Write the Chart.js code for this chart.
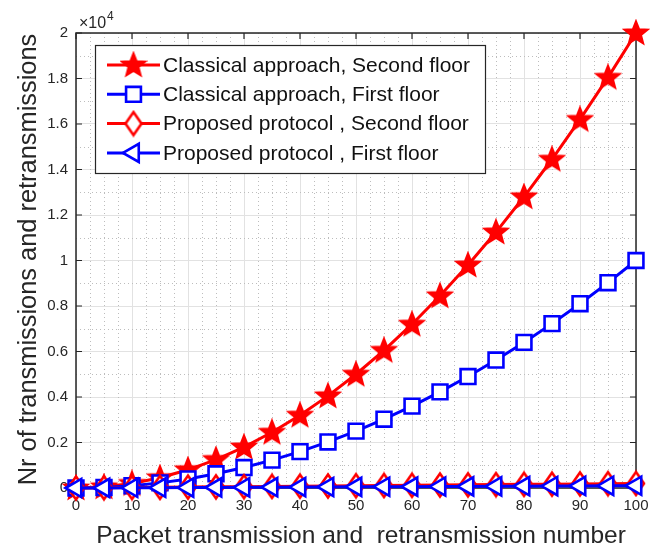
<!DOCTYPE html>
<html><head><meta charset="utf-8">
<script src="https://cdn.jsdelivr.net/npm/chart.js@4.4.0/dist/chart.umd.min.js"></script>
<style>html,body{margin:0;padding:0;background:#fff}#wrap{width:661px;height:550px}</style>
</head><body><div id="wrap"><canvas id="c" width="661" height="550"></canvas></div>
<script>
// ---- data ----
const xValues = [0,5,10,15,20,25,30,35,40,45,50,55,60,65,70,75,80,85,90,95,100];
const classicalSecond = [0,50,200,450,800,1250,1800,2450,3200,4050,5000,6050,7200,8450,9800,11250,12800,14450,16200,18050,20000];
const classicalFirst  = [0,25,100,225,400,625,900,1225,1600,2025,2500,3025,3600,4225,4900,5625,6400,7225,8100,9025,10000];
const proposedSecond  = [0,10,20,30,40,50,60,70,80,90,100,110,120,130,140,150,160,170,180,190,200];
const proposedFirst   = [0,5,10,15,20,25,30,35,40,45,50,55,60,65,70,75,80,85,90,95,100];
const seriesLabels = ['Classical approach, Second floor','Classical approach, First floor','Proposed protocol , Second floor','Proposed protocol , First floor'];
const yTickLabels = ['0','0.2','0.4','0.6','0.8','1','1.2','1.4','1.6','1.8','2'];
const xTitle = 'Packet transmission and  retransmission number';
const yTitle = 'Nr of transmissions and retransmissions';

const RED = '#ff0000', BLUE = '#0000ff', AX = '#262626';
const FONT = '"Liberation Sans", Arial, sans-serif';

function makeStar(){
  const c = document.createElement('canvas'); c.width = 28; c.height = 28;
  const g = c.getContext('2d'); const cx = 14, cy = 14.5, R = 12.5, r = 5.4;
  g.beginPath();
  for (let i = 0; i < 10; i++){
    const a = -Math.PI/2 + i*Math.PI/5; const rr = i%2 ? r : R;
    const px = cx + rr*Math.cos(a), py = cy + rr*Math.sin(a);
    i ? g.lineTo(px,py) : g.moveTo(px,py);
  }
  g.closePath(); g.fillStyle = RED; g.fill(); g.strokeStyle = RED; g.lineWidth = 1.8; g.stroke();
  return c;
}
function makeDiamond(){
  const c = document.createElement('canvas'); c.width = 22; c.height = 28;
  const g = c.getContext('2d'); const cx = 11, cy = 14, hw = 8, hh = 11.5;
  g.beginPath(); g.moveTo(cx, cy-hh); g.lineTo(cx+hw, cy); g.lineTo(cx, cy+hh); g.lineTo(cx-hw, cy); g.closePath();
  g.fillStyle = '#fff'; g.fill(); g.strokeStyle = RED; g.lineWidth = 2.6; g.stroke();
  return c;
}
const starImg = makeStar(), diamondImg = makeDiamond();

const styles = [
  {color: RED,  pointStyle: starImg, radius: 12, rotation: 0},
  {color: BLUE, pointStyle: 'rect', radius: 10.5, rotation: 0},
  {color: RED,  pointStyle: diamondImg, radius: 12, rotation: 0},
  {color: BLUE, pointStyle: 'triangle', radius: 10.5, rotation: 270}
];
const seriesData = [classicalSecond, classicalFirst, proposedSecond, proposedFirst];

const datasets = seriesData.map((vals, i) => ({
  label: seriesLabels[i],
  data: xValues.map((x, j) => ({x: x, y: vals[j]})),
  borderColor: styles[i].color,
  backgroundColor: '#ffffff',
  borderWidth: 3,
  pointStyle: styles[i].pointStyle,
  pointRadius: styles[i].radius,
  pointRotation: styles[i].rotation,
  pointBorderColor: styles[i].color,
  pointBackgroundColor: '#ffffff',
  pointBorderWidth: 2.6,
  tension: 0,
  clip: false,
  order: 4 - i
}));

const decorPlugin = {
  id: 'decor',
  beforeDatasetsDraw(chart){
    const {ctx, chartArea: a, scales: {x, y}} = chart;
    ctx.save();
    // minor grid
    ctx.strokeStyle = '#bdbdbd'; ctx.lineWidth = 1; ctx.setLineDash([1, 3]);
    for (let v = 2.5; v < 100; v += 2.5){
      if (Math.abs(v % 10) < 1e-6) continue;
      const px = Math.round(x.getPixelForValue(v)) + 0.5;
      ctx.beginPath(); ctx.moveTo(px, a.top); ctx.lineTo(px, a.bottom); ctx.stroke();
    }
    for (let v = 1000; v < 20000; v += 2000){
      const py = Math.round(y.getPixelForValue(v)) + 0.5;
      ctx.beginPath(); ctx.moveTo(a.left, py); ctx.lineTo(a.right, py); ctx.stroke();
    }
    ctx.setLineDash([]);
    // box
    ctx.strokeStyle = AX; ctx.lineWidth = 1.5;
    ctx.strokeRect(a.left, a.top, a.right - a.left, a.bottom - a.top);
    // inward ticks
    ctx.lineWidth = 1.2; const tl = 6;
    for (let v = 0; v <= 100; v += 10){
      const px = x.getPixelForValue(v);
      ctx.beginPath(); ctx.moveTo(px, a.bottom); ctx.lineTo(px, a.bottom - tl);
      ctx.moveTo(px, a.top); ctx.lineTo(px, a.top + tl); ctx.stroke();
    }
    for (let v = 0; v <= 20000; v += 2000){
      const py = y.getPixelForValue(v);
      ctx.beginPath(); ctx.moveTo(a.left, py); ctx.lineTo(a.left + tl, py);
      ctx.moveTo(a.right, py); ctx.lineTo(a.right - tl, py); ctx.stroke();
    }
    ctx.restore();
  },
  afterDatasetsDraw(chart){
    const {ctx, chartArea: a} = chart;
    ctx.save();
    // legend
    const lx = a.left + 19, ly = a.top + 12, lw = 390, lh = 128;
    ctx.fillStyle = '#fff'; ctx.fillRect(lx, ly, lw, lh);
    ctx.strokeStyle = AX; ctx.lineWidth = 1.2; ctx.strokeRect(lx + 0.5, ly + 0.5, lw, lh);
    ctx.font = '21px ' + FONT; ctx.textBaseline = 'middle'; ctx.textAlign = 'left';
    for (let i = 0; i < 4; i++){
      const cy = ly + 20 + i * 29.3;
      ctx.strokeStyle = styles[i].color; ctx.lineWidth = 3;
      ctx.beginPath(); ctx.moveTo(lx + 12, cy); ctx.lineTo(lx + 65, cy); ctx.stroke();
      ctx.fillStyle = '#fff'; ctx.strokeStyle = styles[i].color; ctx.lineWidth = 2.6;
      Chart.helpers.drawPoint(ctx, {pointStyle: styles[i].pointStyle, radius: styles[i].radius, rotation: styles[i].rotation, borderWidth: 2.6}, lx + 38.5, cy);
      ctx.fillStyle = '#111'; ctx.fillText(seriesLabels[i], lx + 68, cy + 1);
    }
    // exponent
    ctx.fillStyle = AX; ctx.textBaseline = 'alphabetic';
    ctx.font = '16px ' + FONT; ctx.fillText('\u00d710', a.left + 3, a.top - 5);
    ctx.font = '12px ' + FONT; ctx.fillText('4', a.left + 31, a.top - 13);
    // titles
    ctx.fillStyle = AX; ctx.font = '24.5px ' + FONT; ctx.textAlign = 'center'; ctx.textBaseline = 'alphabetic';
    ctx.fillText(xTitle, (a.left + a.right) / 2 + 5, 543);
    ctx.font = '25.4px ' + FONT;
    ctx.save(); ctx.translate(36, (a.top + a.bottom) / 2 - 1); ctx.rotate(-Math.PI/2);
    ctx.fillText(yTitle, 0, 0); ctx.restore();
    ctx.restore();
  }
};

new Chart(document.getElementById('c'), {
  type: 'line',
  data: {datasets},
  options: {
    responsive: false, animation: false, devicePixelRatio: 1,
    layout: {padding: {top: 33, right: 25, left: 0, bottom: 0}},
    plugins: {legend: {display: false}, tooltip: {enabled: false}},
    scales: {
      x: {
        type: 'linear', min: 0, max: 100,
        afterFit(s){ s.height = 62; },
        ticks: {stepSize: 10, color: AX, font: {size: 15, family: FONT}, padding: 9, maxRotation: 0},
        grid: {color: '#e2e2e2', lineWidth: 1, drawTicks: false},
        border: {display: false}
      },
      y: {
        type: 'linear', min: 0, max: 20000,
        afterFit(s){ s.width = 76; },
        ticks: {stepSize: 2000, color: AX, font: {size: 15, family: FONT}, padding: 8,
          callback: (v) => yTickLabels[Math.round(v / 2000)]},
        grid: {color: '#e2e2e2', lineWidth: 1, drawTicks: false},
        border: {display: false}
      }
    }
  },
  plugins: [decorPlugin]
});
</script></body></html>
